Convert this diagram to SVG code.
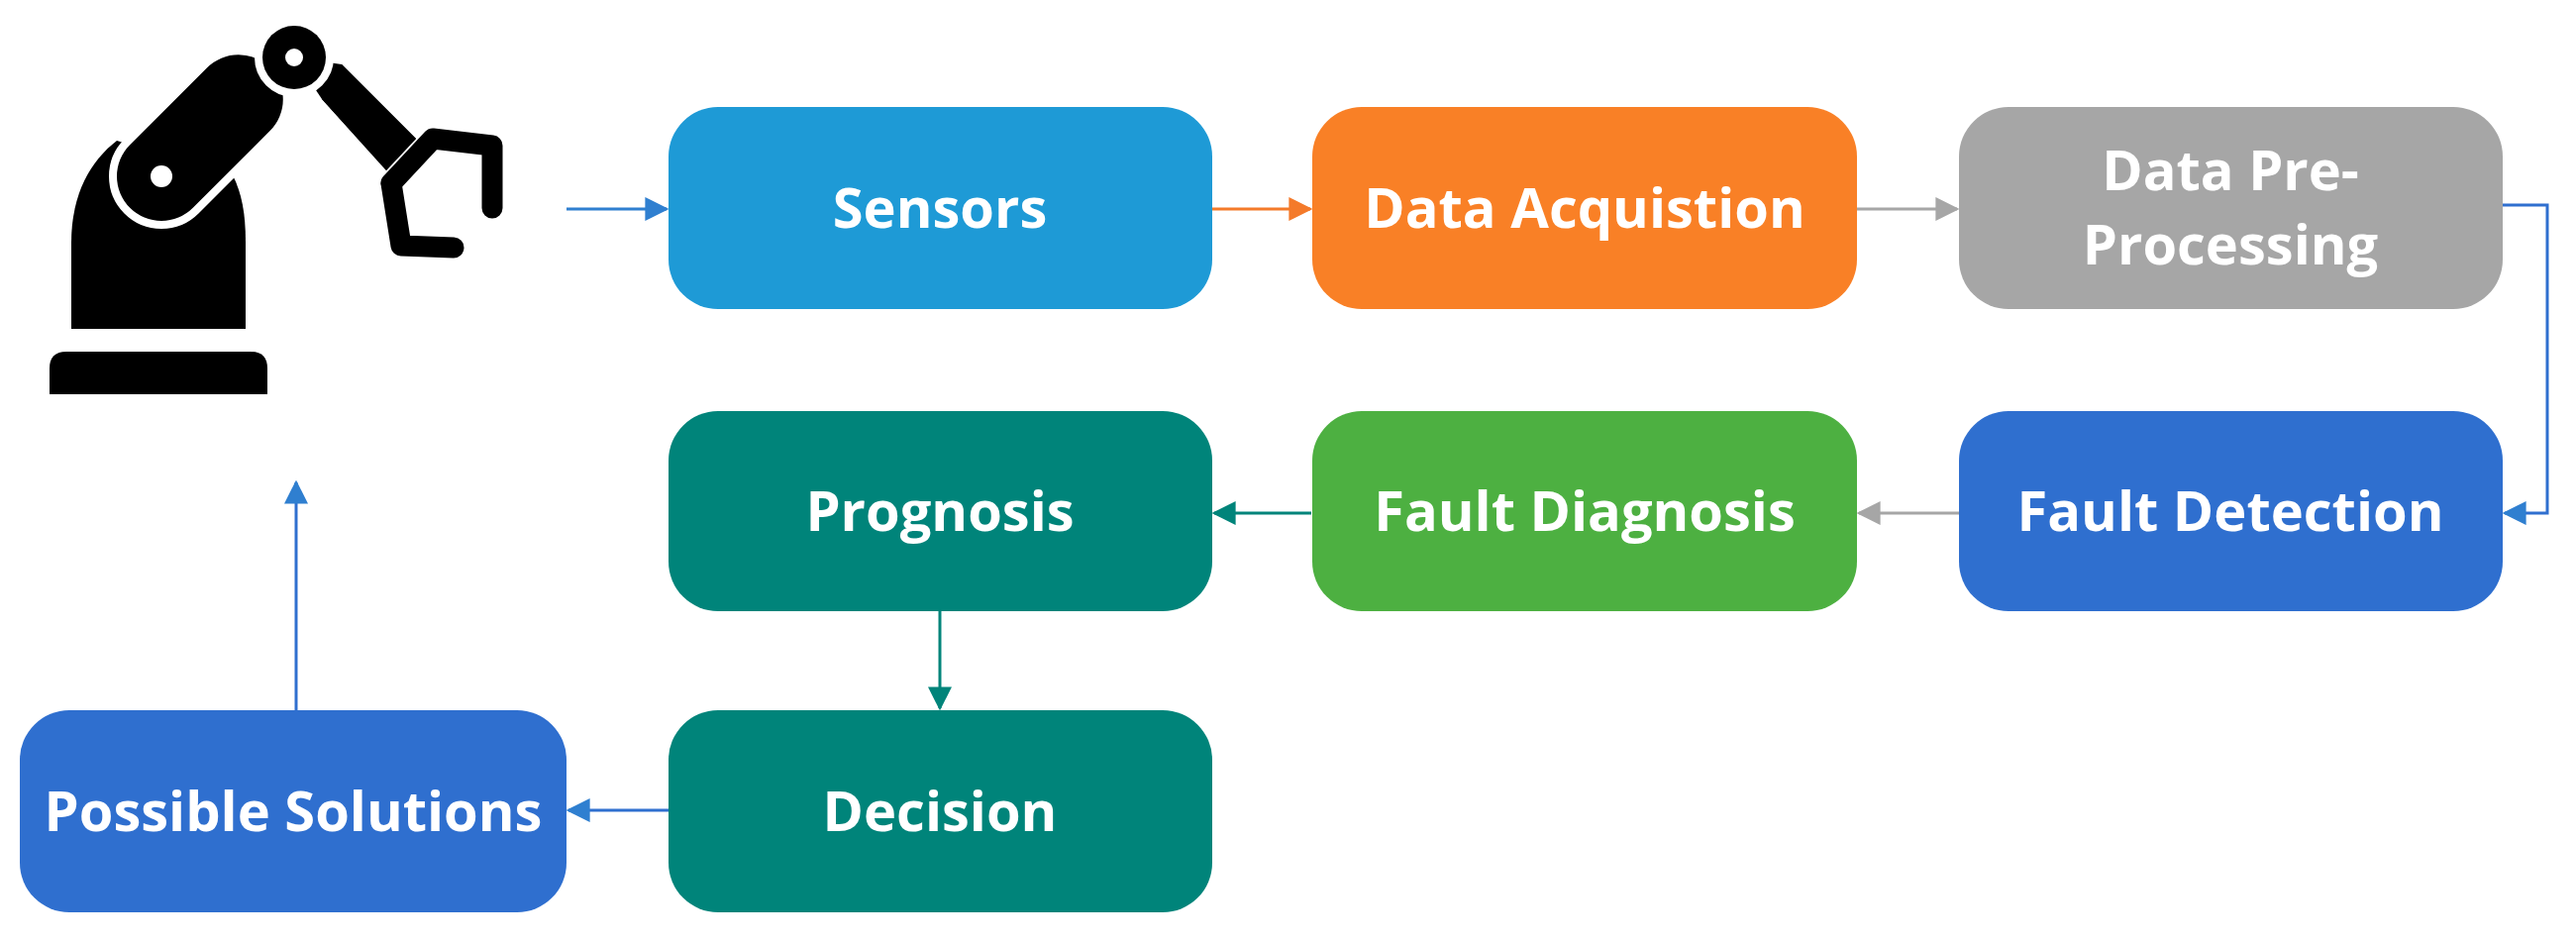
<svg xmlns="http://www.w3.org/2000/svg" width="2601" height="953" viewBox="0 0 2601 953">
<defs>
<style>
.box{stroke:none}
.t{font-family:"Open Sans","Liberation Sans",sans-serif;font-weight:bold;font-size:56px;fill:#fff;text-anchor:middle;dominant-baseline:central}
.c{fill:none;stroke-width:3}
</style>
<marker id="ab" viewBox="0 0 10 10" refX="9" refY="5" markerWidth="24" markerHeight="24" markerUnits="userSpaceOnUse" orient="auto"><path d="M0,0L10,5L0,10z" fill="#2F7FD0"/></marker>
<marker id="ao" viewBox="0 0 10 10" refX="9" refY="5" markerWidth="24" markerHeight="24" markerUnits="userSpaceOnUse" orient="auto"><path d="M0,0L10,5L0,10z" fill="#F47A2A"/></marker>
<marker id="ag" viewBox="0 0 10 10" refX="9" refY="5" markerWidth="24" markerHeight="24" markerUnits="userSpaceOnUse" orient="auto"><path d="M0,0L10,5L0,10z" fill="#A6A6A6"/></marker>
<marker id="at" viewBox="0 0 10 10" refX="9" refY="5" markerWidth="24" markerHeight="24" markerUnits="userSpaceOnUse" orient="auto"><path d="M0,0L10,5L0,10z" fill="#00847A"/></marker>
</defs>
<rect width="2601" height="953" fill="#fff"/>
<g id="robot">
<path d="M50,398 L50,372 Q50,355 67,355 L253,355 Q270,355 270,372 L270,398 Z" fill="#000"/>
<path d="M72,332 L72,245 C72,195 92,162 118,142 L235,177 C244,195 248,215 248,245 L248,332 Z" fill="#000"/>
<path d="M297,58 L345,65 L420,140 L390,172 L325,100 Z" fill="#000" stroke="#fff" stroke-width="14" paint-order="stroke"/>
<g transform="translate(163,178) rotate(-45)"><rect x="-45" y="-45" width="200" height="90" rx="45" fill="#000" stroke="#fff" stroke-width="16" paint-order="stroke"/></g>
<circle cx="163" cy="178" r="11" fill="#fff"/>
<circle cx="297" cy="58" r="32" fill="#000" stroke="#fff" stroke-width="16" paint-order="stroke"/>
<circle cx="297" cy="58" r="9" fill="#fff"/>
<path d="M345,65 L420,140 L390,172 L325,100 Z" fill="#000"/>
<polyline points="395,185 437,140 497,147 497,210" fill="none" stroke="#000" stroke-width="21" stroke-linejoin="round" stroke-linecap="round"/>
<polyline points="395,185 405,248 458,250" fill="none" stroke="#000" stroke-width="21" stroke-linejoin="round" stroke-linecap="round"/>
</g>
<g id="connectors">
<line class="c" x1="572" y1="211" x2="673" y2="211" stroke="#2F7FD0" marker-end="url(#ab)"/>
<line class="c" x1="1224" y1="211" x2="1323" y2="211" stroke="#F47A2A" marker-end="url(#ao)"/>
<line class="c" x1="1875" y1="211" x2="1976" y2="211" stroke="#A6A6A6" marker-end="url(#ag)"/>
<polyline class="c" points="2527,207 2572,207 2572,518 2529,518" stroke="#2F6FCF" marker-end="url(#ab)"/>
<line class="c" x1="1978" y1="518" x2="1877" y2="518" stroke="#A6A6A6" marker-end="url(#ag)"/>
<line class="c" x1="1324" y1="518" x2="1226" y2="518" stroke="#00847A" marker-end="url(#at)"/>
<line class="c" x1="949" y1="617" x2="949" y2="715" stroke="#00847A" marker-end="url(#at)"/>
<line class="c" x1="675" y1="818" x2="574" y2="818" stroke="#2F6FCF" marker-end="url(#ab)"/>
<line class="c" x1="299" y1="717" x2="299" y2="487" stroke="#2F6FCF" marker-end="url(#ab)"/>
</g>
<g id="sensors"><rect class="box" x="675" y="108" width="549" height="204" rx="50" fill="#1E9AD6"/><text class="t" x="949" y="208">Sensors</text></g>
<g id="data-acquisition"><rect class="box" x="1325" y="108" width="550" height="204" rx="50" fill="#F98026"/><text class="t" x="1600" y="208">Data Acquistion</text></g>
<g id="data-preprocessing"><rect class="box" x="1978" y="108" width="549" height="204" rx="50" fill="#A6A6A6"/><text class="t" x="2252" y="170">Data Pre-</text><text class="t" x="2252" y="245">Processing</text></g>
<g id="fault-detection"><rect class="box" x="1978" y="415" width="549" height="202" rx="50" fill="#2F6FCF"/><text class="t" x="2252" y="514">Fault Detection</text></g>
<g id="fault-diagnosis"><rect class="box" x="1325" y="415" width="550" height="202" rx="50" fill="#4DB041"/><text class="t" x="1600" y="514">Fault Diagnosis</text></g>
<g id="prognosis"><rect class="box" x="675" y="415" width="549" height="202" rx="50" fill="#00847A"/><text class="t" x="949" y="514">Prognosis</text></g>
<g id="decision"><rect class="box" x="675" y="717" width="549" height="204" rx="50" fill="#00847A"/><text class="t" x="949" y="817">Decision</text></g>
<g id="possible-solutions"><rect class="box" x="20" y="717" width="552" height="204" rx="50" fill="#2F6FCF"/><text class="t" x="296" y="817">Possible Solutions</text></g>
</svg>
